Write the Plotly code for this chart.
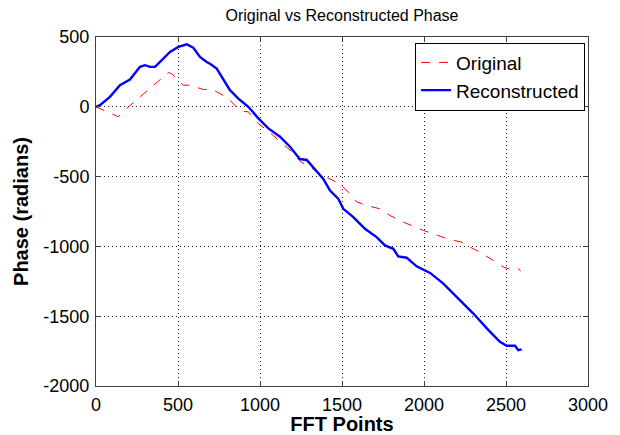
import plotly.graph_objects as go

# Data
orig_x = [0, 45, 106, 136, 187, 248, 329, 390, 441, 461, 496, 532, 573, 614, 654, 705,
          756, 817, 878, 929, 990, 1051, 1132, 1193, 1244, 1325, 1407, 1488, 1549, 1589,
          1650, 1732, 1793, 1874, 1955, 1996, 2057, 2159, 2230, 2280, 2341, 2402, 2484,
          2545, 2575, 2590]
orig_y = [0, -24, -60, -71, -12, 48, 131, 190, 245, 238, 195, 155, 155, 138, 124, 126,
          95, 48, -29, -36, -120, -175, -262, -321, -390, -445, -505, -552, -624, -680,
          -707, -731, -779, -826, -867, -886, -910, -952, -969, -1005, -1040, -1088, -1148,
          -1171, -1160, -1176]

recon_x = [0, 24, 85, 146, 207, 268, 299, 329, 360, 400, 451, 502, 553, 593, 634, 675,
           695, 736, 776, 817, 868, 929, 990, 1051, 1122, 1183, 1223, 1244, 1285, 1325,
           1386, 1427, 1478, 1508, 1569, 1640, 1711, 1762, 1813, 1843, 1894, 1955, 2000,
           2037, 2118, 2220, 2301, 2393, 2463, 2504, 2555, 2575, 2596]
recon_y = [0, 12, 71, 155, 195, 286, 298, 286, 286, 333, 393, 429, 448, 424, 357, 321,
           309, 274, 202, 119, 59, 0, -83, -155, -214, -286, -345, -374, -381, -433,
           -517, -600, -660, -731, -790, -874, -933, -993, -1017, -1071, -1081, -1143, -1171,
           -1190, -1267, -1386, -1481, -1600, -1683, -1712, -1712, -1743, -1738]

x_ticks = [0, 500, 1000, 1500, 2000, 2500, 3000]
y_ticks = [-2000, -1500, -1000, -500, 0, 500]

fig = go.Figure()
fig.add_trace(go.Scatter(x=orig_x, y=orig_y, mode="lines", name="Original",
                         line=dict(color="#ff0000", width=1, dash="dash")))
fig.add_trace(go.Scatter(x=recon_x, y=recon_y, mode="lines", name="Reconstructed",
                         line=dict(color="#0000ff", width=2.4)))

font_family = "Liberation Sans, Arial, sans-serif"
axis_common = dict(showgrid=True, gridcolor="#222222", griddash="1px,3px", gridwidth=1,
                   zeroline=False, showline=True, linecolor="#404040", linewidth=1,
                   mirror="ticks", ticks="inside", ticklen=5, tickcolor="#404040",
                   automargin=False, ticklabelstandoff=2,
                   tickfont=dict(size=18, color="black", family=font_family))

# The page body adds an 8px margin, so the figure is 8px smaller than the window
fig.update_layout(
    width=612, height=427,
    margin=dict(l=88, r=32, t=29, b=49),
    paper_bgcolor="white", plot_bgcolor="white",
    font=dict(family=font_family, color="black"),
    title=dict(text="Original vs Reconstructed Phase", x=0.5, xanchor="center",
               xref="paper", yref="container",
               y=1 - 7 / 427, yanchor="middle", font=dict(size=16, color="black")),
    xaxis=dict(range=[0, 3000], tickvals=x_ticks, ticktext=[str(v) for v in x_ticks],
               title=dict(text="<b>FFT Points</b>", font=dict(size=20), standoff=6),
               **axis_common),
    yaxis=dict(range=[-2000, 500], tickvals=y_ticks, ticktext=[str(v) for v in y_ticks],
               title=dict(text="<b>Phase (radians)</b>", font=dict(size=20), standoff=9),
               **axis_common),
    legend=dict(x=0.994, y=0.984, xanchor="right", yanchor="top",
                bgcolor="white", bordercolor="black", borderwidth=1,
                font=dict(size=19, color="black"), tracegroupgap=0,
                itemwidth=30),
    showlegend=True,
)

fig.write_html("out.html")
